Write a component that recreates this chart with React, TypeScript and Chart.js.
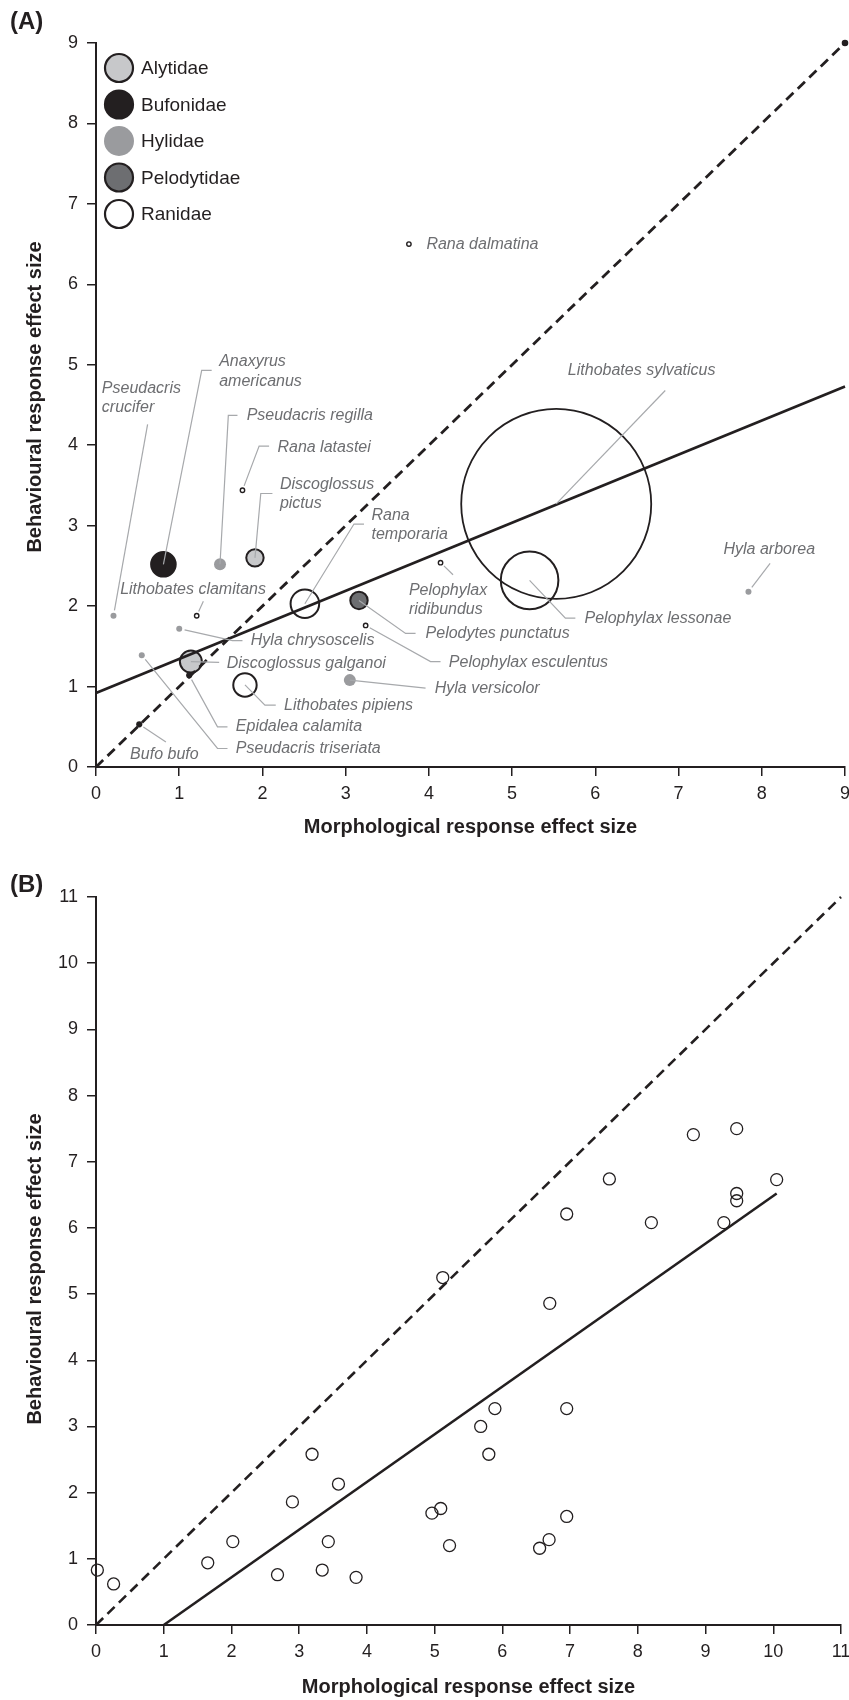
import React, { useEffect, useRef } from "react";
import { Chart, registerables } from "chart.js";
Chart.register(...registerables);

const FONT = "'Liberation Sans', Arial, Helvetica, sans-serif";
const INK = "#231f20";
const TEXT_GREY = "#6d6e71";
const LEADER_GREY = "#a7a9ac";

// ---------- families ----------
const familyNames = ["Alytidae", "Bufonidae", "Hylidae", "Pelodytidae", "Ranidae"];
const familyFill = ["#c7c8ca", "#231f20", "#9a9b9e", "#6d6e71", "rgba(255,255,255,0)"];
const familyBorder = [INK, INK, "#9a9b9e", INK, INK];

// ---------- panel A data ----------
const speciesA = [
  "Anaxyrus americanus", "Pseudacris regilla", "Discoglossus pictus", "Rana latastei",
  "Pseudacris crucifer", "Lithobates clamitans", "Hyla chrysoscelis", "Pseudacris triseriata",
  "Discoglossus galganoi", "Epidalea calamita", "Lithobates pipiens", "Bufo bufo",
  "Rana temporaria", "Pelodytes punctatus", "Pelophylax esculentus", "Hyla versicolor",
  "Pelophylax ridibundus", "Lithobates sylvaticus", "Pelophylax lessonae", "Hyla arborea",
  "Rana dalmatina", "",
];
const familyA = [
  "Bufonidae", "Hylidae", "Alytidae", "Ranidae",
  "Hylidae", "Ranidae", "Hylidae", "Hylidae",
  "Alytidae", "Bufonidae", "Ranidae", "Bufonidae",
  "Ranidae", "Pelodytidae", "Ranidae", "Hylidae",
  "Ranidae", "Ranidae", "Ranidae", "Hylidae",
  "Ranidae", "Bufonidae",
];
const morphA = [
  0.81, 1.49, 1.91, 1.76,
  0.21, 1.21, 1.0, 0.55,
  1.14, 1.12, 1.79, 0.52,
  2.51, 3.16, 3.24, 3.05,
  4.14, 5.53, 5.21, 7.84,
  3.76, 9.0,
];
const behavA = [
  2.52, 2.52, 2.6, 3.44,
  1.88, 1.88, 1.72, 1.39,
  1.31, 1.14, 1.02, 0.53,
  2.03, 2.07, 1.76, 1.08,
  2.54, 3.27, 2.32, 2.18,
  6.5, 9.0,
];
// relative weight of each species (drawn as bubble radius)
const weightA = [
  12.3, 6, 8.7, 2.2,
  3, 2.2, 3, 3,
  11, 2.4, 11.7, 2.4,
  14.3, 8.7, 2.2, 6,
  2.2, 95, 28.8, 3,
  2.2, 2.6,
];
const regXA = [0, 9];
const regYA = [0.92, 4.73];
const parityXA = [0, 9];
const parityYA = [0, 9];

// callout text for panel A (anchor and leader in data units)
const calloutsA = [
  { name: "Anaxyrus americanus", lines: ["Anaxyrus", "americanus"], lx: 1.48, ly: [5.04, 4.79], path: [[1.27, 4.93], [1.39, 4.93]] },
  { name: "Pseudacris regilla", lines: ["Pseudacris regilla"], lx: 1.81, ly: [4.37], path: [[1.59, 4.37], [1.7, 4.37]] },
  { name: "Discoglossus pictus", lines: ["Discoglossus", "pictus"], lx: 2.21, ly: [3.51, 3.28], path: [[1.98, 3.4], [2.12, 3.4]] },
  { name: "Rana latastei", lines: ["Rana latastei"], lx: 2.18, ly: [3.97], path: [[1.96, 3.99], [2.08, 3.99]] },
  { name: "Pseudacris crucifer", lines: ["Pseudacris", "crucifer"], lx: 0.07, ly: [4.71, 4.47], path: [[0.62, 4.26]] },
  { name: "Lithobates clamitans", lines: ["Lithobates clamitans"], lx: 0.29, ly: [2.21], path: [[1.29, 2.06]] },
  { name: "Hyla chrysoscelis", lines: ["Hyla chrysoscelis"], lx: 1.86, ly: [1.57], path: [[1.64, 1.57], [1.76, 1.57]] },
  { name: "Pseudacris triseriata", lines: ["Pseudacris triseriata"], lx: 1.68, ly: [0.23], path: [[1.46, 0.23], [1.58, 0.23]] },
  { name: "Discoglossus galganoi", lines: ["Discoglossus galganoi"], lx: 1.57, ly: [1.29], path: [[1.48, 1.3]] },
  { name: "Epidalea calamita", lines: ["Epidalea calamita"], lx: 1.68, ly: [0.5], path: [[1.46, 0.5], [1.58, 0.5]] },
  { name: "Lithobates pipiens", lines: ["Lithobates pipiens"], lx: 2.26, ly: [0.77], path: [[2.03, 0.77], [2.16, 0.77]] },
  { name: "Bufo bufo", lines: ["Bufo bufo"], lx: 0.41, ly: [0.15], path: [[0.84, 0.31]] },
  { name: "Rana temporaria", lines: ["Rana", "temporaria"], lx: 3.31, ly: [3.12, 2.89], path: [[3.1, 3.02], [3.22, 3.02]] },
  { name: "Pelodytes punctatus", lines: ["Pelodytes punctatus"], lx: 3.96, ly: [1.66], path: [[3.72, 1.66], [3.84, 1.66]] },
  { name: "Pelophylax esculentus", lines: ["Pelophylax esculentus"], lx: 4.24, ly: [1.3], path: [[4.02, 1.31], [4.14, 1.31]] },
  { name: "Hyla versicolor", lines: ["Hyla versicolor"], lx: 4.07, ly: [0.98], path: [[3.96, 0.98]] },
  { name: "Pelophylax ridibundus", lines: ["Pelophylax", "ridibundus"], lx: 3.76, ly: [2.19, 1.96], path: [[4.29, 2.39]] },
  { name: "Lithobates sylvaticus", lines: ["Lithobates sylvaticus"], lx: 5.67, ly: [4.93], path: [[6.84, 4.68]] },
  { name: "Pelophylax lessonae", lines: ["Pelophylax lessonae"], lx: 5.87, ly: [1.84], path: [[5.64, 1.85], [5.76, 1.85]] },
  { name: "Hyla arborea", lines: ["Hyla arborea"], lx: 7.54, ly: [2.7], path: [[8.1, 2.53]] },
  { name: "Rana dalmatina", lines: ["Rana dalmatina"], lx: 3.97, ly: [6.5], path: [] as number[][] },
];

// ---------- panel B data ----------
const morphB = [
  0.02, 0.26, 1.65, 2.02, 2.68, 2.9, 3.19, 3.34, 3.43, 3.58, 3.84,
  4.96, 5.09, 5.12, 5.22, 5.68, 5.8, 5.89, 6.55, 6.69, 6.7, 6.95, 6.95, 6.95,
  7.58, 8.2, 8.82, 9.27, 9.46, 9.46, 9.46, 10.05,
];
const behavB = [
  0.83, 0.62, 0.94, 1.26, 0.76, 1.86, 2.58, 0.83, 1.26, 2.13, 0.72,
  1.69, 1.76, 5.25, 1.2, 3.0, 2.58, 3.27, 1.16, 1.29, 4.86, 3.27, 1.64, 6.21,
  6.74, 6.08, 7.41, 6.08, 7.5, 6.52, 6.41, 6.73,
];
const regXB = [1.0, 10.05];
const regYB = [0, 6.52];
const parityXB = [0, 11];
const parityYB = [0, 11];

const xTitle = "Morphological response effect size";
const yTitle = "Behavioural response effect size";

function pts(xs: number[], ys: number[]) {
  return xs.map((x, i) => ({ x, y: ys[i] }));
}

function axis(max: number, isX: boolean, size: number) {
  return {
    type: "linear" as const,
    min: 0,
    max,
    ticks: { stepSize: 1, color: INK, font: { family: FONT, size: 18 }, padding: isX ? 7 : 9, maxRotation: 0, autoSkip: false },
    grid: { drawOnChartArea: false, drawTicks: true, tickLength: 9, color: INK, lineWidth: 1.5 },
    border: { display: true, color: INK, width: 2 },
    afterFit: (s: any) => {
      if (isX) s.height = size;
      else s.width = size;
      s.paddingLeft = 0;
      s.paddingRight = 0;
      s.paddingTop = 0;
      s.paddingBottom = 0;
    },
  };
}

function drawTitles(chart: any, panel: string, panelY: number, xTitleY: number, yTitleCy: number) {
  const { ctx, chartArea } = chart;
  ctx.save();
  ctx.fillStyle = INK;
  ctx.font = `bold 24px ${FONT}`;
  ctx.textAlign = "left";
  ctx.textBaseline = "middle";
  ctx.fillText(panel, 10, panelY);
  ctx.font = `bold 20px ${FONT}`;
  ctx.textAlign = "center";
  ctx.fillText(xTitle, (chartArea.left + chartArea.right) / 2, xTitleY);
  ctx.translate(41, yTitleCy);
  ctx.rotate(-Math.PI / 2);
  ctx.textBaseline = "alphabetic";
  ctx.fillText(yTitle, 0, 0);
  ctx.restore();
}

const annotA = {
  id: "annotA",
  afterDatasetsDraw(chart: any) {
    const { ctx, scales } = chart;
    const x = scales.x;
    const y = scales.y;
    ctx.save();
    // leaders
    ctx.strokeStyle = LEADER_GREY;
    ctx.lineWidth = 1.2;
    calloutsA.forEach((c) => {
      if (!c.path.length) return;
      const i = speciesA.indexOf(c.name);
      const px = x.getPixelForValue(morphA[i]);
      const py = y.getPixelForValue(behavA[i]);
      const p = c.path.map(([a, b]) => [x.getPixelForValue(a), y.getPixelForValue(b)]);
      let sx = px, sy = py;
      const r = weightA[i];
      if (r < 4) {
        const dx = p[0][0] - px, dy = p[0][1] - py;
        const d = Math.hypot(dx, dy) || 1;
        sx = px + (dx / d) * (r + 2.5);
        sy = py + (dy / d) * (r + 2.5);
      }
      ctx.beginPath();
      ctx.moveTo(sx, sy);
      p.forEach(([a, b]) => ctx.lineTo(a, b));
      ctx.stroke();
    });
    // labels
    ctx.fillStyle = TEXT_GREY;
    ctx.font = `italic 16px ${FONT}`;
    ctx.textAlign = "left";
    ctx.textBaseline = "middle";
    calloutsA.forEach((c) => {
      c.lines.forEach((t, k) => {
        ctx.fillText(t, x.getPixelForValue(c.lx), y.getPixelForValue(c.ly[k]));
      });
    });
    ctx.restore();
  },
  afterDraw(chart: any) {
    const { ctx, chartArea } = chart;
    drawTitles(chart, "(A)", 22, 827, 397);
    // legend
    ctx.save();
    familyNames.forEach((f, i) => {
      const cx = chartArea.left + 23;
      const cy = chartArea.top + 25 + i * 36.5;
      ctx.beginPath();
      ctx.arc(cx, cy, i === 2 ? 15 : 14, 0, Math.PI * 2);
      ctx.fillStyle = i === 4 ? "#ffffff" : familyFill[i];
      ctx.fill();
      if (i !== 2) {
        ctx.lineWidth = 2.2;
        ctx.strokeStyle = INK;
        ctx.stroke();
      }
      ctx.fillStyle = INK;
      ctx.font = `19px ${FONT}`;
      ctx.textAlign = "left";
      ctx.textBaseline = "middle";
      ctx.fillText(f, chartArea.left + 45, cy + 1);
    });
    ctx.restore();
  },
};

const annotB = {
  id: "annotB",
  afterDraw(chart: any) {
    drawTitles(chart, "(B)", 30, 832, 414);
  },
};

function configA(): any {
  const famIdx = familyA.map((f) => familyNames.indexOf(f));
  return {
    type: "bubble",
    data: {
      datasets: [
        {
          type: "line",
          data: pts(regXA, regYA),
          borderColor: INK,
          borderWidth: 2.8,
          pointRadius: 0,
          fill: false,
          clip: false,
        },
        {
          type: "line",
          data: pts(parityXA, parityYA),
          borderColor: INK,
          borderWidth: 2.8,
          borderDash: [10, 6],
          pointRadius: 0,
          fill: false,
          clip: false,
        },
        {
          type: "bubble",
          data: speciesA.map((s, i) => ({ x: morphA[i], y: behavA[i], r: weightA[i] })),
          backgroundColor: famIdx.map((k) => familyFill[k]),
          borderColor: famIdx.map((k) => familyBorder[k]),
          borderWidth: famIdx.map((k, i) => (k === 2 ? 0 : weightA[i] < 4 ? 1.4 : weightA[i] > 50 ? 1.8 : 2)),
          clip: false,
        },
      ],
    },
    options: {
      animation: false,
      responsive: true,
      maintainAspectRatio: false,
      events: [],
      layout: { autoPadding: false, padding: { top: 43, right: 4, left: 0, bottom: 0 } },
      plugins: { legend: { display: false }, tooltip: { enabled: false } },
      scales: { x: axis(9, true, 88), y: axis(9, false, 96) },
    },
    plugins: [annotA],
  };
}

function configB(): any {
  return {
    type: "scatter",
    data: {
      datasets: [
        {
          type: "line",
          data: pts(regXB, regYB),
          borderColor: INK,
          borderWidth: 2.6,
          pointRadius: 0,
          fill: false,
          clip: false,
        },
        {
          type: "line",
          data: pts(parityXB, parityYB),
          borderColor: INK,
          borderWidth: 2.6,
          borderDash: [10, 6],
          pointRadius: 0,
          fill: false,
          clip: false,
        },
        {
          type: "scatter",
          data: pts(morphB, behavB),
          pointRadius: 6,
          pointBackgroundColor: "rgba(255,255,255,0)",
          pointBorderColor: INK,
          pointBorderWidth: 1.3,
          clip: false,
        },
      ],
    },
    options: {
      animation: false,
      responsive: true,
      maintainAspectRatio: false,
      events: [],
      layout: { autoPadding: false, padding: { top: 42, right: 8, left: 0, bottom: 0 } },
      plugins: { legend: { display: false }, tooltip: { enabled: false } },
      scales: { x: axis(11, true, 75), y: axis(11, false, 96) },
    },
    plugins: [annotB],
  };
}

export default function App() {
  const refA = useRef<HTMLCanvasElement>(null);
  const refB = useRef<HTMLCanvasElement>(null);
  useEffect(() => {
    const a = new Chart(refA.current as HTMLCanvasElement, configA());
    const b = new Chart(refB.current as HTMLCanvasElement, configB());
    return () => {
      a.destroy();
      b.destroy();
    };
  }, []);
  return (
    <div style={{ position: "absolute", left: 0, top: 0, width: 849, height: 1700, background: "#ffffff" }}>
      <div style={{ position: "absolute", left: 0, top: 0, width: 849, height: 855 }}>
        <canvas ref={refA} />
      </div>
      <div style={{ position: "absolute", left: 0, top: 855, width: 849, height: 845 }}>
        <canvas ref={refB} />
      </div>
    </div>
  );
}
